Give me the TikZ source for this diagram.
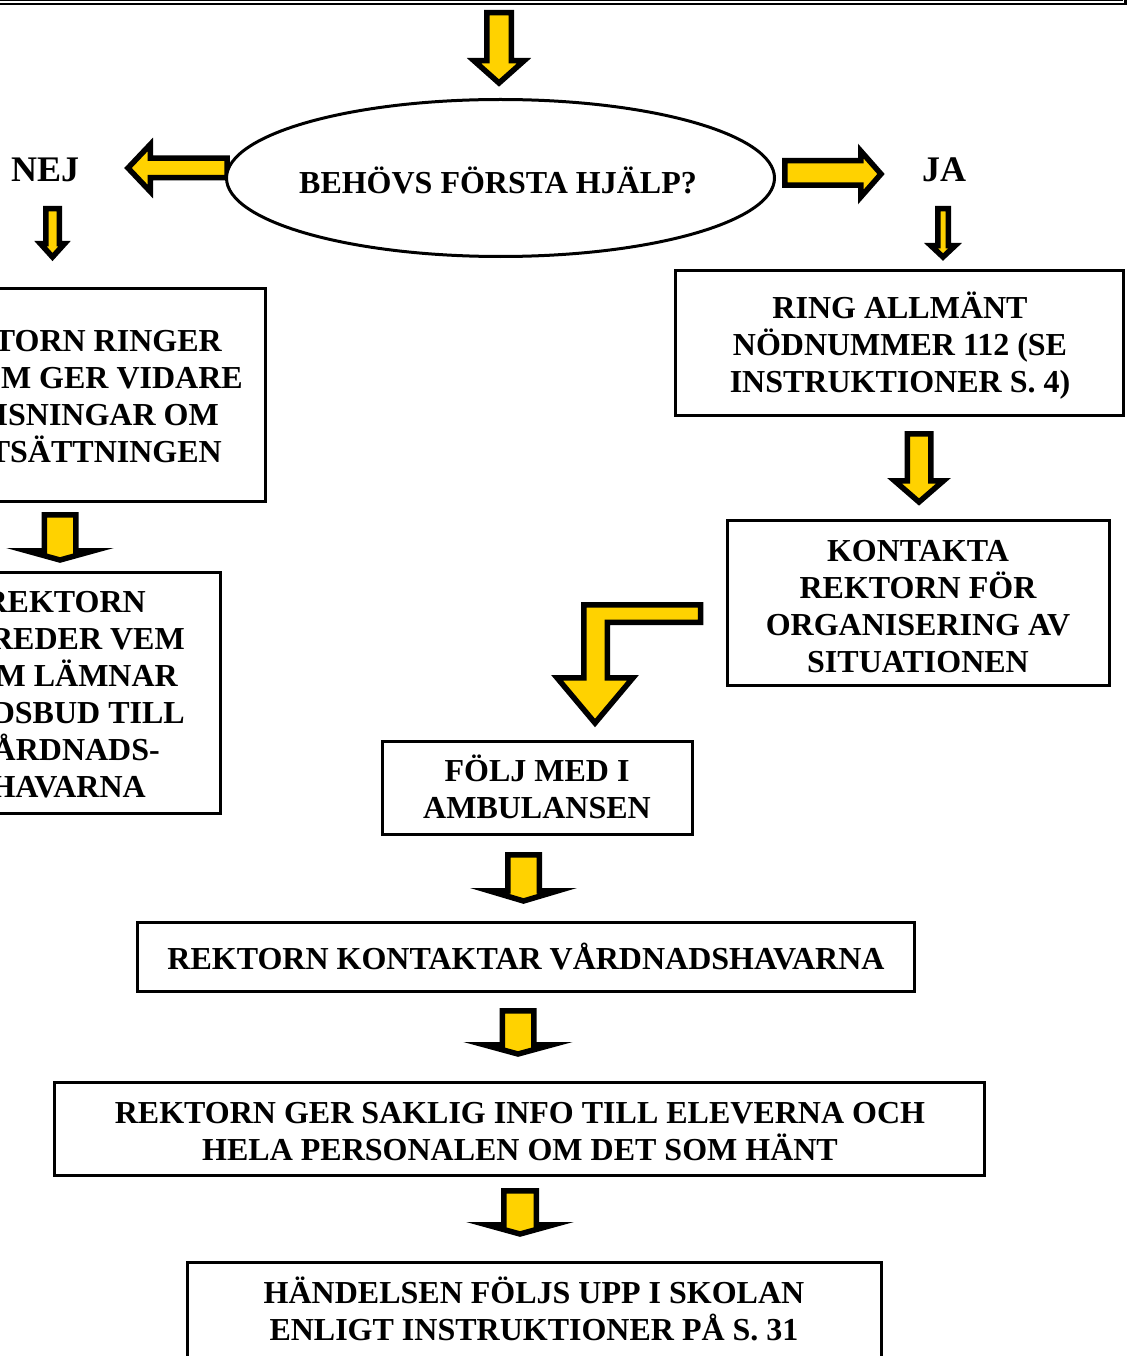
\documentclass[tikz,border=0pt]{standalone}
\usepackage{fontspec}
\setmainfont{Liberation Serif}
\definecolor{ayellow}{RGB}{255,210,0}
\tikzset{
  blockarrow/.style={draw=black, fill=ayellow, line width=5.5pt, line join=miter},
  box/.style={draw=black, line width=3pt, inner sep=0pt, fill=white},
  txt/.style={inner sep=0pt, font=\bfseries\fontsize{32}{37}\selectfont},
  bigtxt/.style={inner sep=0pt, font=\bfseries\fontsize{36}{40}\selectfont},
}
% down block arrow: name, cx, top, shaft half, head half, head base y, tip y
\newcommand\DArrow[7]{%
  \draw[blockarrow] ({#2-#4+2.75},{#3+2.75}) coordinate (#1-top)
    -- ({#2+#4-2.75},{#3+2.75}) -- ({#2+#4-2.75},{#6+2.75}) -- ({#2+#5-3.5},{#6+2.75})
    -- ({#2},{#7-4}) coordinate (#1-tip) -- ({#2-#5+3.5},{#6+2.75}) -- ({#2-#4+2.75},{#6+2.75}) -- cycle;}
\newcommand\TLines[4]{%
  \foreach \t [count=\i] in {#4} {\node[txt, anchor=base] (#1-\i) at ({#2},{#3+(\i-1)*37}) {\t};}}
\begin{document}
\begin{tikzpicture}[x=1pt,y=-1pt]
\useasboundingbox (0,0) rectangle (1127,1356);
% top frame (cut off)
\draw[line width=2.5pt] (-20,-60) rectangle (1125.5,3.8);
\draw[line width=1pt] (-20,-60) rectangle (1122,0.8);
% arrows
\DArrow{a0}{499}{10}{15}{28.5}{58}{87}
\draw[blockarrow] (227,{168-12.5+2.75}) -- ({153-2.75},{168-12.5+2.75}) -- ({153-2.75},{168-27+3.5})
   -- ({124+4},168) coordinate (al-tip) -- ({153-2.75},{168+27-3.5}) -- ({153-2.75},{168+12.5-2.75})
   -- (227,{168+12.5-2.75}) -- cycle;
\draw[blockarrow] ({782+2.75},{173-15+2.75}) -- ({858+2.75},{173-15+2.75}) -- ({858+2.75},{174-26.5+3.5})
   -- ({885-4},174) coordinate (ar-tip) -- ({858+2.75},{174+26.5-3.5}) -- ({858+2.75},{173+15-2.75})
   -- ({782+2.75},{173+15-2.75}) -- cycle;
% decision ellipse
\draw[line width=3pt, fill=white] (500.5,178) ellipse [x radius=274, y radius=78.5];
\node[txt, anchor=base] (q) at (498,194) {BEHÖVS FÖRSTA HJÄLP?};
\node[bigtxt, anchor=base west] (nej) at (11,182) {NEJ};
\node[bigtxt, anchor=base west] (ja) at (922,182) {JA};
\DArrow{a1}{52.5}{206}{9.5}{15.5}{241}{261}
\DArrow{a2}{943}{206}{8}{15.5}{243}{261}
% left column
\node[box, minimum width=285.5pt, minimum height=213pt] (L1) at (122.75,395) {};
\foreach \t/\x/\y [count=\i] in {TORN RINGER/222/351, OM GER VIDARE/243/388, ISNINGAR OM/219/425, TSÄTTNINGEN/222/462}
  \node[txt, anchor=base east] (L1-\i) at (\x,\y) {\t};
\DArrow{a3}{60}{512}{18.5}{37}{548}{564}
\node[box, minimum width=240.5pt, minimum height=241pt] (L2) at (100.25,693) {};
\foreach \t/\x/\y [count=\i] in {REKTORN/146/612, REDER VEM/185/649, M LÄMNAR/178/686, DSBUD TILL/185/723, ÅRDNADS-/160/760, HAVARNA/146/797}
  \node[txt, anchor=base east] (L2-\i) at (\x,\y) {\t};
% right column
\node[box, minimum width=448pt, minimum height=145pt] (R1) at (899.5,343) {};
\TLines{R1t}{900}{318}{RING ALLMÄNT, NÖDNUMMER 112 (SE, INSTRUKTIONER S. 4)}
\DArrow{a4}{919}{431}{14.5}{28}{478}{506}
\node[box, minimum width=382pt, minimum height=165pt] (R2) at (918.5,603) {};
\TLines{R2t}{918}{561}{KONTAKTA, REKTORN FÖR, ORGANISERING AV, SITUATIONEN}
% bent arrow
\draw[blockarrow] (700.5,604.75) -- (583.75,604.75) -- (583.75,677.75) -- (557,677.75)
   -- (595,723) coordinate (ab-tip) -- (633,677.75) -- (607.25,677.75) -- (607.25,622.25) -- (700.5,622.25) -- cycle;
% centre column
\node[box, minimum width=310pt, minimum height=93pt] (F) at (537.5,788) {};
\TLines{Ft}{537}{781}{FÖLJ MED I, AMBULANSEN}
\DArrow{a5}{523.5}{852}{18.5}{38}{888}{905}
\node[box, minimum width=777pt, minimum height=69pt] (K) at (526,957) {};
\TLines{Kt}{526}{969}{REKTORN KONTAKTAR VÅRDNADSHAVARNA}
\DArrow{a6}{518}{1008}{18.5}{37.5}{1042}{1058}
\node[box, minimum width=930pt, minimum height=93pt] (G) at (519.5,1129) {};
\TLines{Gt}{520}{1123}{REKTORN GER SAKLIG INFO TILL ELEVERNA OCH, HELA PERSONALEN OM DET SOM HÄNT}
\DArrow{a7}{520}{1188}{19}{37}{1222}{1238}
\node[box, minimum width=694pt, minimum height=137.5pt] (H) at (534.5,1331.25) {};
\TLines{Ht}{534}{1303}{HÄNDELSEN FÖLJS UPP I SKOLAN, ENLIGT INSTRUKTIONER PÅ S. 31}
\end{tikzpicture}
\end{document}
